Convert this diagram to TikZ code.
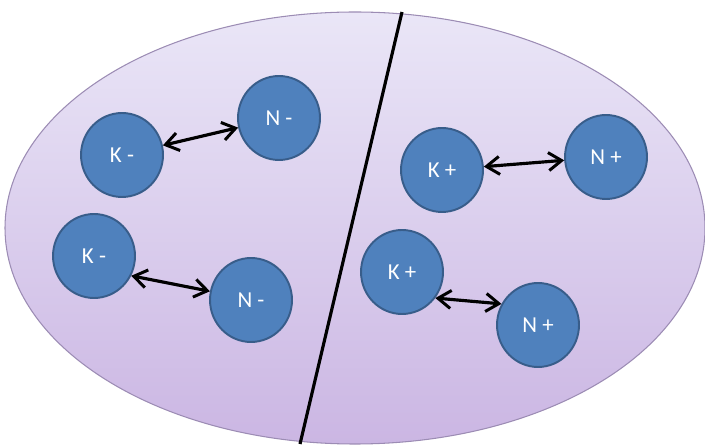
\documentclass[tikz,border=0pt]{standalone}
\usepackage{fontspec}
\setsansfont{Carlito}
\usetikzlibrary{arrows.meta,shapes.geometric}
\definecolor{ionfill}{HTML}{4F81BD}
\definecolor{iondraw}{HTML}{385D8A}
\definecolor{celltop}{HTML}{EAE6F7}
\definecolor{cellbot}{HTML}{CBB6E3}
\definecolor{celldraw}{HTML}{9C8CB4}
\begin{document}
\begin{tikzpicture}[
    x=0.02cm,
    y=-0.02cm,
    >={Straight Barb[length=2.6mm,width=3.6mm,line width=1.7pt]},
    font=\sffamily,
    cell/.style={
        draw=celldraw,
        line width=0.6pt,
        top color=celltop,
        bottom color=cellbot
    },
    ion/.style={
        ellipse,
        draw=iondraw,
        line width=1.1pt,
        fill=ionfill,
        text=white,
        inner sep=0pt,
        minimum width=1.64cm,
        minimum height=1.68cm,
        font=\sffamily\fontsize{13}{15}\selectfont
    },
    link/.style={
        <->,
        line width=1.8pt
    },
    wall/.style={
        line width=1.8pt
    }
]
    \useasboundingbox (0,0) rectangle (705,448);
    \path[cell] (355,228) ellipse [x radius=350, y radius=216];

    \coordinate (wall-top) at (402,12);
    \coordinate (wall-bot) at (300,444);
    \draw[wall] (wall-top) -- (wall-bot);

    \node[ion] (kneg-a) at (122,155) {K -};
    \node[ion] (nneg-a) at (279,118) {N -};
    \node[ion] (kneg-b) at (94,256) {K -};
    \node[ion] (nneg-b) at (251,300) {N -};

    \node[ion] (kpos-a) at (442,170) {K +};
    \node[ion] (npos-a) at (606,157) {N +};
    \node[ion] (kpos-b) at (402,272) {K +};
    \node[ion] (npos-b) at (538,325) {N +};

    \draw[link] (kneg-a) -- (nneg-a);
    \draw[link] (kneg-b.-28) -- (nneg-b.168);
    \draw[link] (kpos-a) -- (npos-a);
    \draw[link] (kpos-b.-38) -- (npos-b.150);
\end{tikzpicture}
\end{document}
